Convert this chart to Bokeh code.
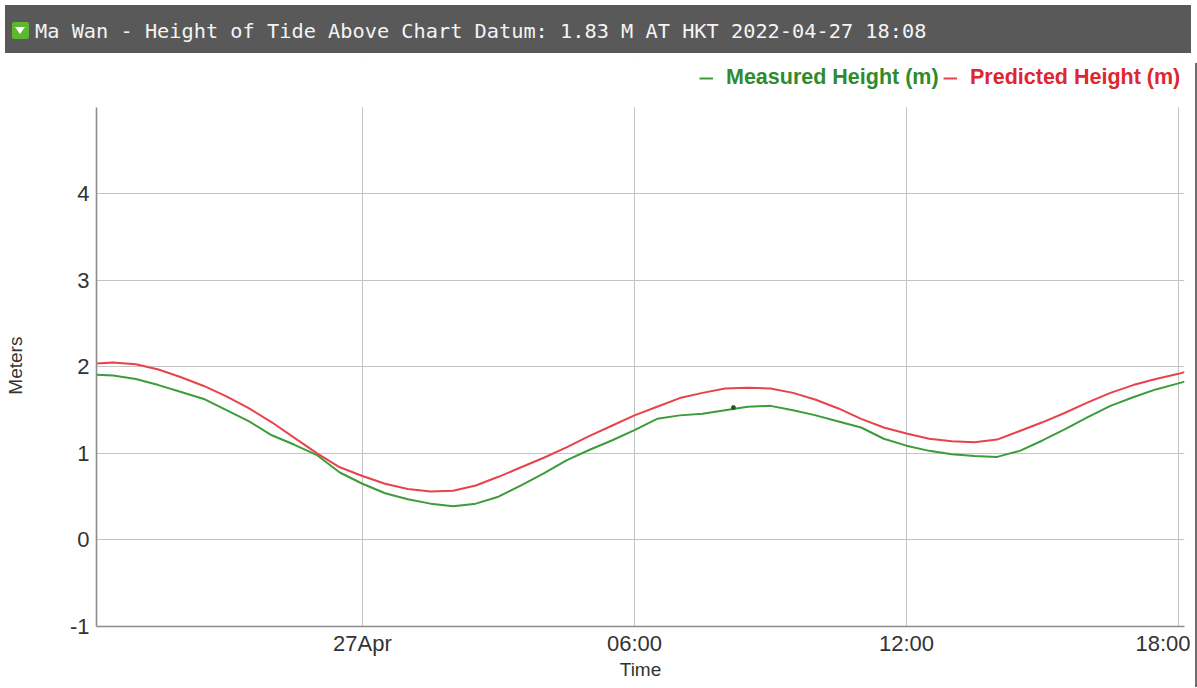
import pandas as pd
from bokeh.plotting import figure
from bokeh.models import (Div, Legend, LegendItem, FixedTicker, ColumnDataSource, Range1d,
                          BoxAnnotation)
from bokeh.layouts import column, row
from bokeh.embed import file_html
from bokeh.resources import INLINE

# ---------------- data ----------------
title_text = "Ma Wan - Height of Tide Above Chart Datum: 1.83 M AT HKT 2022-04-27 18:08"

times = [
    "2022-04-26 18:08", "2022-04-26 18:30", "2022-04-26 19:00", "2022-04-26 19:30",
    "2022-04-26 20:00", "2022-04-26 20:30", "2022-04-26 21:00", "2022-04-26 21:30",
    "2022-04-26 22:00", "2022-04-26 22:30", "2022-04-26 23:00", "2022-04-26 23:30",
    "2022-04-27 00:00", "2022-04-27 00:30", "2022-04-27 01:00", "2022-04-27 01:30",
    "2022-04-27 02:00", "2022-04-27 02:30", "2022-04-27 03:00", "2022-04-27 03:30",
    "2022-04-27 04:00", "2022-04-27 04:30", "2022-04-27 05:00", "2022-04-27 05:30",
    "2022-04-27 06:00", "2022-04-27 06:30", "2022-04-27 07:00", "2022-04-27 07:30",
    "2022-04-27 08:00", "2022-04-27 08:30", "2022-04-27 09:00", "2022-04-27 09:30",
    "2022-04-27 10:00", "2022-04-27 10:30", "2022-04-27 11:00", "2022-04-27 11:30",
    "2022-04-27 12:00", "2022-04-27 12:30", "2022-04-27 13:00", "2022-04-27 13:30",
    "2022-04-27 14:00", "2022-04-27 14:30", "2022-04-27 15:00", "2022-04-27 15:30",
    "2022-04-27 16:00", "2022-04-27 16:30", "2022-04-27 17:00", "2022-04-27 17:30",
    "2022-04-27 18:00", "2022-04-27 18:08",
]

predicted = [
    2.04, 2.05, 2.03, 1.97, 1.88, 1.78, 1.66, 1.52, 1.36, 1.18, 1.00, 0.84,
    0.74, 0.65, 0.59, 0.56, 0.57, 0.63, 0.73, 0.84, 0.95, 1.07, 1.20, 1.32,
    1.44, 1.54, 1.64, 1.70, 1.75, 1.76, 1.75, 1.70, 1.62, 1.52, 1.40, 1.30,
    1.23, 1.17, 1.14, 1.13, 1.16, 1.26, 1.36, 1.47, 1.59, 1.70, 1.79, 1.86,
    1.92, 1.94,
]

measured = [
    1.91, 1.90, 1.86, 1.79, 1.71, 1.63, 1.50, 1.37, 1.21, 1.10, 0.98, 0.78,
    0.65, 0.54, 0.47, 0.42, 0.39, 0.42, 0.50, 0.63, 0.77, 0.92, 1.04, 1.15,
    1.27, 1.40, 1.44, 1.46, 1.50, 1.54, 1.55, 1.50, 1.44, 1.37, 1.30, 1.17,
    1.09, 1.03, 0.99, 0.97, 0.96, 1.03, 1.15, 1.28, 1.42, 1.55, 1.65, 1.74,
    1.81, 1.83,
]

# the small dark point visible on the measured line
point_times = ["2022-04-27 08:11"]
point_values = [1.53]

x_start, x_end = "2022-04-26 18:08", "2022-04-27 18:08"
tick_times = ["2022-04-27 00:00", "2022-04-27 06:00", "2022-04-27 12:00", "2022-04-27 18:00"]
tick_labels = ["27Apr", "06:00", "12:00", "18:00"]
y_ticks = [-1, 0, 1, 2, 3, 4]
y_tick_labels = ["-1", "0", "1", "2", "3", "4"]
y_min, y_axis_top = -1, 5

series_names = ["Measured Height (m)", "Predicted Height (m)"]
x_title, y_title = "Time", "Meters"

# ---------------- style / layout ----------------
GREEN_LINE = "#3d9c3a"
GREEN_TEXT = "#2e8b2e"
RED_LINE = "#e8424c"
RED_TEXT = "#e0262e"
FONT = "Liberation Sans"

FIG_W, FIG_H = 1190, 624
BORDER_L, BORDER_R, BORDER_T, BORDER_B = 96, 6, 4, 54
AXIS_PX = 521  # pixel height of the axis from y_min to y_axis_top
frame_h = FIG_H - BORDER_T - BORDER_B
y_max = y_min + (y_axis_top - y_min) * frame_h / AXIS_PX  # room above the axis for the legend
LEG_Y = 536  # legend bottom, pixels above the frame bottom


def ms(s):
    return pd.Timestamp(s).value // 10**6


src = ColumnDataSource(dict(time=pd.to_datetime(times), measured=measured, predicted=predicted))

p = figure(
    width=FIG_W, height=FIG_H, x_axis_type="datetime",
    x_range=Range1d(ms(x_start), ms(x_end)), y_range=Range1d(y_min, y_max),
    output_backend="svg", toolbar_location=None,
    min_border_left=BORDER_L, min_border_right=BORDER_R,
    min_border_top=BORDER_T, min_border_bottom=BORDER_B,
)
p.outline_line_color = None
p.background_fill_color = "white"
p.border_fill_color = "white"

r_meas = p.line(x="time", y="measured", source=src, line_color=GREEN_LINE, line_width=2)
r_pred = p.line(x="time", y="predicted", source=src, line_color=RED_LINE, line_width=2)
p.scatter(x=pd.to_datetime(point_times), y=point_values, size=4,
          fill_color="#1f5a1f", line_color="#1f5a1f")

tick_ms = [ms(t) for t in tick_times]
p.xaxis.ticker = FixedTicker(ticks=tick_ms)
p.xaxis.major_label_overrides = {t: lab for t, lab in zip(tick_ms, tick_labels)}
p.yaxis.ticker = FixedTicker(ticks=y_ticks)
p.yaxis.major_label_overrides = {t: lab for t, lab in zip(y_ticks, y_tick_labels)}
p.yaxis.bounds = (y_min, y_axis_top)

for ax in (p.xaxis[0], p.yaxis[0]):
    ax.axis_line_color = "#8c8c8c"
    ax.axis_line_width = 1.6
    ax.major_tick_line_color = None
    ax.minor_tick_line_color = None
    ax.major_tick_out = 0
    ax.major_tick_in = 0
    ax.major_label_text_font = FONT
    ax.major_label_text_font_size = "22px"
    ax.major_label_text_color = "#333333"
    ax.axis_label_text_font = FONT
    ax.axis_label_text_font_style = "normal"
    ax.axis_label_text_color = "#333333"

p.xaxis.axis_label = x_title
p.xaxis.axis_label_text_font_size = "19px"
p.xaxis.major_label_standoff = 4
p.xaxis.axis_label_standoff = 0

# the reference centres "Meters" on the axis (-1..5), not on the taller frame:
# trailing no-break spaces move the visible word down by the same amount
p.yaxis.axis_label = y_title + "\u00a0" * 8
p.yaxis.axis_label_text_font_size = "19px"
p.yaxis.major_label_standoff = 7
p.yaxis.axis_label_standoff = 41

p.xgrid.grid_line_color = "#c4c4c4"
p.ygrid.grid_line_color = "#c4c4c4"

# blank strip above the top of the axis (legend area)
p.add_layout(BoxAnnotation(bottom=y_axis_top, fill_color="white", fill_alpha=1.0,
                           line_color=None))

legend_cfg = dict(
    orientation="horizontal", padding=0, margin=0, spacing=0,
    glyph_width=14, glyph_height=20, label_height=20, label_standoff=13,
    label_text_font=FONT, label_text_font_style="bold", label_text_font_size="21.5px",
    border_line_color=None, background_fill_alpha=0,
)
leg1 = Legend(items=[LegendItem(label=series_names[0], renderers=[r_meas])],
              location=(603, LEG_Y), label_text_color=GREEN_TEXT, **legend_cfg)
leg2 = Legend(items=[LegendItem(label=series_names[1], renderers=[r_pred])],
              location=(847, LEG_Y), label_text_color=RED_TEXT, **legend_cfg)
p.add_layout(leg1)
p.add_layout(leg2)

icon = (
    '<span style="display:inline-block;position:relative;width:17px;height:17px;'
    'background:#5cb82e;border-radius:2px;margin-left:7px;margin-right:6px;vertical-align:middle;">'
    '<span style="position:absolute;left:3px;top:5px;width:0;height:0;'
    'border-left:5.5px solid transparent;border-right:5.5px solid transparent;'
    'border-top:7px solid #ffffff;"></span></span>'
)
header = Div(
    text='<div style="height:48px;line-height:48px;white-space:nowrap;">' + icon
         + '<span style="vertical-align:middle;">' + title_text + '</span></div>',
    width=1186, height=48,
    styles={"background-color": "#595959", "color": "#f4f4f4",
            "font-family": "'DejaVu Sans Mono', monospace", "font-size": "20.3px"},
)
right_edge = Div(text="", width=2, height=FIG_H, styles={"background-color": "#6e6e6e"})

layout = column(header, row(p, right_edge, spacing=0), spacing=0)

open("out.html", "w").write(file_html(layout, INLINE))
